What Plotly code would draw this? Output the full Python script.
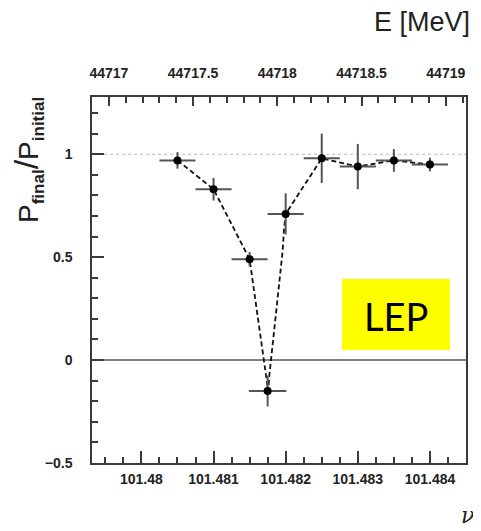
import plotly.graph_objects as go

# ---------------- data ----------------
nu = [101.4805, 101.481, 101.4815, 101.48175, 101.482, 101.4825, 101.483, 101.4835, 101.484]
ratio = [0.97, 0.83, 0.49, -0.15, 0.71, 0.98, 0.94, 0.97, 0.95]
nu_err = [0.00025, 0.00025, 0.00025, 0.00026, 0.00025, 0.00025, 0.00025, 0.00025, 0.00025]
ratio_err = [0.04, 0.055, 0.035, 0.075, 0.10, 0.12, 0.11, 0.055, 0.033]

# dashed guide curve
curve_nu = [101.4805, 101.481, 101.4815, 101.481528, 101.481574, 101.481619, 101.481667,
            101.481703, 101.481736, 101.481758, 101.481775, 101.481796, 101.481817,
            101.481851, 101.481883, 101.481931, 101.481958, 101.481976, 101.482,
            101.4825, 101.483, 101.4835, 101.484]
curve_ratio = [0.97, 0.83, 0.49, 0.42, 0.32, 0.19, 0.08, 0.0, -0.08, -0.15, -0.07, 0.0,
               0.07, 0.16, 0.29, 0.42, 0.53, 0.63, 0.71, 0.98, 0.94, 0.97, 0.95]

nu_tick_vals = [101.48, 101.481, 101.482, 101.483, 101.484]
nu_tick_text = ["101.48", "101.481", "101.482", "101.483", "101.484"]
e_tick_vals = [44717, 44717.5, 44718, 44718.5, 44719]
e_tick_text = ["44717", "44717.5", "44718", "44718.5", "44719"]
y_tick_vals = [-0.5, 0, 0.5, 1]
y_tick_text = ["\u22120.5", "0", "0.5", "1"]

reference_one = 1.0
reference_zero = 0.0

# ---------------- layout geometry ----------------
# the page body adds an 8px offset, so the figure is drawn 8px smaller
OFF = 8
W, H = 481 - OFF, 531 - OFF
ML, MR, MT, MB = 92 - OFF, 15, 97 - OFF, 68
PW, PH = W - ML - MR, H - MT - MB


def px_x(px):
    """reference-picture pixel x -> paper x"""
    return (px - OFF - ML) / PW


def px_y(py):
    """reference-picture pixel y -> paper y"""
    return (H - MB - (py - OFF)) / PH


frame_col = "#3a3a3a"
tick_font = dict(family="Liberation Sans, Arial, sans-serif", size=14, color="#222222", weight="bold")

fig = go.Figure()

# dashed curve
fig.add_trace(go.Scatter(
    x=curve_nu, y=curve_ratio, mode="lines",
    line=dict(color="#111111", width=1.8, dash="5px,3px"),
    hoverinfo="skip", showlegend=False,
))

# data points with error bars
fig.add_trace(go.Scatter(
    x=nu, y=ratio, mode="markers",
    marker=dict(color="black", size=8),
    error_x=dict(type="data", array=nu_err, color="#555555", thickness=2, width=0),
    error_y=dict(type="data", array=ratio_err, color="#555555", thickness=2, width=0),
    hoverinfo="skip", showlegend=False,
))

# dummy trace to attach top axis
fig.add_trace(go.Scatter(
    x=e_tick_vals, y=[None] * len(e_tick_vals), xaxis="x2", yaxis="y",
    mode="markers", hoverinfo="skip", showlegend=False,
))

fig.update_layout(
    width=W, height=H,
    margin=dict(l=ML, r=MR, t=MT, b=MB, autoexpand=False),
    paper_bgcolor="white", plot_bgcolor="white",
    hovermode=False, showlegend=False,
    xaxis=dict(
        range=[101.479315, 101.4845],
        tickmode="array", tickvals=nu_tick_vals, ticktext=nu_tick_text,
        ticks="inside", ticklen=12, tickwidth=1.5, tickcolor=frame_col,
        minor=dict(tick0=101.48, dtick=0.00025, ticks="inside", ticklen=6,
                   tickwidth=1.5, tickcolor=frame_col),
        showline=True, linecolor=frame_col, linewidth=1.5, mirror=False,
        showgrid=False, zeroline=False,
        tickfont=tick_font, ticklabelstandoff=2,
    ),
    xaxis2=dict(
        range=[44716.9, 44719.12], overlaying="x", side="top", anchor="y",
        tickmode="array", tickvals=e_tick_vals, ticktext=e_tick_text,
        ticks="inside", ticklen=9, tickwidth=1.5, tickcolor=frame_col,
        minor=dict(tick0=44717, dtick=0.1, ticks="inside", ticklen=6,
                   tickwidth=1.5, tickcolor=frame_col),
        showline=True, linecolor=frame_col, linewidth=1.5,
        showgrid=False, zeroline=False,
        tickfont=tick_font, ticklabelstandoff=12,
    ),
    yaxis=dict(
        range=[-0.5, 1.278],
        tickmode="array", tickvals=y_tick_vals, ticktext=y_tick_text,
        ticks="inside", ticklen=12, tickwidth=1.5, tickcolor=frame_col,
        minor=dict(tick0=0, dtick=0.1, ticks="inside", ticklen=6,
                   tickwidth=1.5, tickcolor=frame_col),
        showline=True, linecolor=frame_col, linewidth=1.5, mirror=True,
        showgrid=False, zeroline=False,
        tickfont=tick_font, ticklabelstandoff=15,
    ),
)

# reference lines
fig.add_shape(type="line", xref="paper", x0=0, x1=1, yref="y",
              y0=reference_one, y1=reference_one,
              line=dict(color="#bbbbbb", width=1.2, dash="dot"), layer="below")
fig.add_shape(type="line", xref="paper", x0=0, x1=1, yref="y",
              y0=reference_zero, y1=reference_zero,
              line=dict(color="#555555", width=1.5), layer="below")

# LEP box
fig.add_shape(type="rect", xref="paper", yref="paper",
              x0=px_x(342), x1=px_x(450), y0=px_y(350), y1=px_y(279),
              fillcolor="#ffff00", line=dict(width=0), layer="above")
fig.add_annotation(xref="paper", yref="paper", x=px_x(396), y=px_y(316),
                   text="LEP", showarrow=False, xanchor="center", yanchor="middle",
                   font=dict(family="Lato, Open Sans, sans-serif", size=38, color="black"))

# E [MeV]
fig.add_annotation(xref="paper", yref="paper", x=px_x(422), y=px_y(22),
                   text="E [MeV]", showarrow=False, xanchor="center", yanchor="middle",
                   font=dict(family="Liberation Sans, Arial, sans-serif", size=27, color="#222222"))

# nu
fig.add_annotation(xref="paper", yref="paper", x=px_x(467), y=px_y(515),
                   text="<i>\u03bd</i>", showarrow=False, xanchor="center", yanchor="middle",
                   font=dict(family="DejaVu Serif, serif", size=22, color="#222222"))

# y title
sub_style = "font-size:17px"
fig.add_annotation(xref="paper", yref="paper", x=px_x(27), y=px_y(160),
                   text=("P<sub><span style='" + sub_style + "'><b>final</b></span></sub>"
                         "<span style='font-size:34px'>/</span>"
                         "P<sub><span style='" + sub_style + "'><b>initial</b></span></sub>"),
                   textangle=-90, showarrow=False, xanchor="center", yanchor="middle",
                   font=dict(family="Liberation Sans, Arial, sans-serif", size=28, color="#222222"))

fig.write_html("out.html")
